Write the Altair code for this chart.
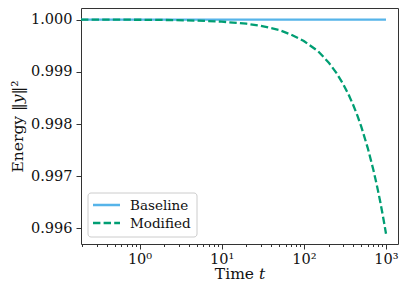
import altair as alt
import pandas as pd

# Time samples and read-off energy values
t_vals = [0.194, 0.5, 1, 2, 5, 10, 20, 30, 50, 70, 100, 150, 200, 250, 300, 350,
          400, 450, 500, 600, 700, 750, 800, 850, 900, 950, 1000]
modified = [1.000000, 0.999998, 0.999996, 0.999992, 0.999980, 0.999960, 0.999920,
            0.999880, 0.999800, 0.999710, 0.999590, 0.999390, 0.999180, 0.998975,
            0.998770, 0.998565, 0.998360, 0.998155, 0.997950, 0.997540, 0.997130,
            0.996925, 0.996720, 0.996515, 0.996310, 0.996105, 0.995900]
baseline = [1.0] * len(t_vals)

series_names = ["Baseline", "Modified"]
series_colors = ["#56B4E9", "#009E73"]
series_dash = [[1, 0], [7.4, 3.2]]
y_ticks = [0.996, 0.997, 0.998, 0.999, 1.000]

rows = []
for t, v in zip(t_vals, baseline):
    rows.append({"t": t, "E": v, "series": "Baseline"})
for t, v in zip(t_vals, modified):
    rows.append({"t": t, "E": v, "series": "Modified"})
df = pd.DataFrame(rows)

X_DOMAIN = [0.194, 1400]
x_ticks = []
for k in range(-1, 4):
    for m in range(1, 10):
        v = m * 10 ** k
        if X_DOMAIN[0] <= v <= X_DOMAIN[1]:
            x_ticks.append(round(v, 6))

major_test = "datum.value==1||datum.value==10||datum.value==100||datum.value==1000"
label_expr = ("datum.value==1?'10⁰':datum.value==10?'10¹':"
              "datum.value==100?'10²':datum.value==1000?'10³':''")

FONT = "DejaVu Serif"
W, H = 317, 236

lines = alt.Chart(df).mark_line(strokeWidth=2.3).encode(
    x=alt.X("t:Q",
            scale=alt.Scale(type="log", domain=X_DOMAIN, nice=False),
            axis=alt.Axis(values=x_ticks, labelExpr=label_expr, labelOverlap=False,
                          labelFlush=False, grid=False, domain=False,
                          tickSize={"condition": {"test": major_test, "value": 5}, "value": 2.5},
                          tickColor="#333", labelFontSize=14.5, labelFont=FONT,
                          labelColor="#111", labelPadding=3,
                          title="Time 𝑡", titleFont=FONT, titleFontSize=15.5,
                          titleFontWeight="normal", titleColor="#111", titlePadding=1)),
    y=alt.Y("E:Q",
            scale=alt.Scale(domain=[0.995703, 1.000221], nice=False, zero=False),
            axis=alt.Axis(values=y_ticks, format=".3f", grid=False, domain=False,
                          tickSize=5, tickColor="#333", labelFontSize=14.5,
                          labelFont=FONT, labelColor="#111", labelPadding=4,
                          title="Energy ‖𝑦‖²", titleFont=FONT, titleFontSize=15.5,
                          titleFontWeight="normal", titleColor="#111", titlePadding=5)),
    color=alt.Color("series:N",
                    scale=alt.Scale(domain=series_names, range=series_colors),
                    legend=None),
    strokeDash=alt.StrokeDash("series:N",
                              scale=alt.Scale(domain=series_names, range=series_dash),
                              legend=None),
)

# Hand-drawn legend box in the lower-left corner
leg_df = pd.DataFrame({"label": series_names})
box = alt.Chart(leg_df.head(1)).mark_rect(
    fill="white", fillOpacity=0.85, stroke="#cccccc", strokeWidth=1, cornerRadius=3
).encode(x=alt.value(7), x2=alt.value(116), y=alt.value(185), y2=alt.value(229))

legend_layers = [box]
row_y = [197, 215]
for i, name in enumerate(series_names):
    d = pd.DataFrame({"label": [name]})
    legend_layers.append(
        alt.Chart(d).mark_rule(color=series_colors[i], strokeWidth=2.3,
                               strokeDash=series_dash[i]).encode(
            x=alt.value(12), x2=alt.value(39), y=alt.value(row_y[i]))
    )
    legend_layers.append(
        alt.Chart(d).mark_text(align="left", baseline="middle", font=FONT,
                               fontSize=13.5, color="#111").encode(
            x=alt.value(49), y=alt.value(row_y[i] + 1), text="label:N")
    )

chart = alt.layer(lines, *legend_layers).properties(
    width=W,
    height=H,
    autosize=alt.AutoSizeParams(type="none"),
    padding={"left": 73, "top": 0, "right": 1, "bottom": 39},
).configure_view(
    stroke="#333", strokeWidth=1
)

chart.save("out.html", embed_options={"renderer": "svg", "actions": False})
